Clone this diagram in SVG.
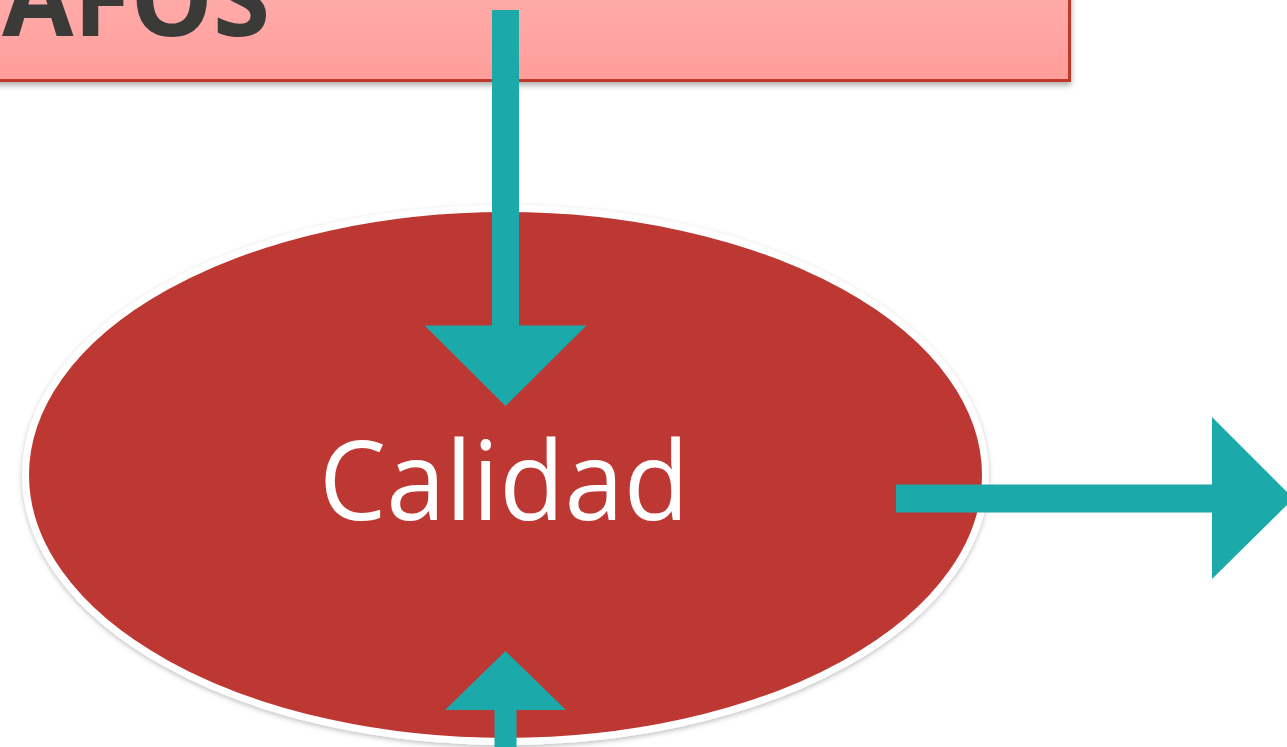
<svg xmlns="http://www.w3.org/2000/svg" width="1287" height="747" viewBox="0 0 1287 747">
  <defs>
    <linearGradient id="pinkGrad" x1="0" y1="0" x2="0" y2="1">
      <stop offset="0" stop-color="#ffacaa"/>
      <stop offset="1" stop-color="#ff9d9a"/>
    </linearGradient>
    <filter id="shadow" x="-10%" y="-10%" width="120%" height="130%">
      <feDropShadow dx="0" dy="3" stdDeviation="3" flood-color="#000000" flood-opacity="0.35"/>
    </filter>
    <filter id="softShadow" x="-5%" y="-5%" width="110%" height="115%">
      <feDropShadow dx="0" dy="2" stdDeviation="2.5" flood-color="#000000" flood-opacity="0.25"/>
    </filter>
  </defs>
  <style>
    .arrow { fill: #1ba9a9; }
    .title { font-family: "Open Sans", "Liberation Sans", sans-serif; font-weight: bold; fill: #3a3a38; }
    .label { font-family: "Open Sans", "Liberation Sans", sans-serif; fill: #ffffff; }
  </style>
  <rect width="1287" height="747" fill="#ffffff"/>

  <g id="afos">
    <rect x="-10" y="-10" width="1079.5" height="90.5" fill="url(#pinkGrad)" stroke="#c0392b" stroke-width="3" filter="url(#shadow)"/>
    <text class="title" x="2" y="36" font-size="105" textLength="268" lengthAdjust="spacingAndGlyphs">AFOS</text>
  </g>

  <g id="calidad">
    <ellipse cx="505.5" cy="475" rx="480" ry="266.5" fill="#bd3831" stroke="#ffffff" stroke-width="7" filter="url(#softShadow)"/>
    <text class="label" x="504" y="520" font-size="110" text-anchor="middle" textLength="370" lengthAdjust="spacingAndGlyphs">Calidad</text>
  </g>

  <g id="connectors">
    <polygon class="arrow" points="492,10 519,10 519,325.5 586.5,325.5 505.5,406 424.5,325.5 492,325.5"/>
    <polygon class="arrow" points="896,484.5 1212,484.5 1212,417 1293.5,498.5 1212,579 1212,512.5 896,512.5"/>
    <polygon class="arrow" points="494.5,760 516.5,760 516.5,710 566,710 505.5,651 445,710 494.5,710"/>
  </g>
</svg>
